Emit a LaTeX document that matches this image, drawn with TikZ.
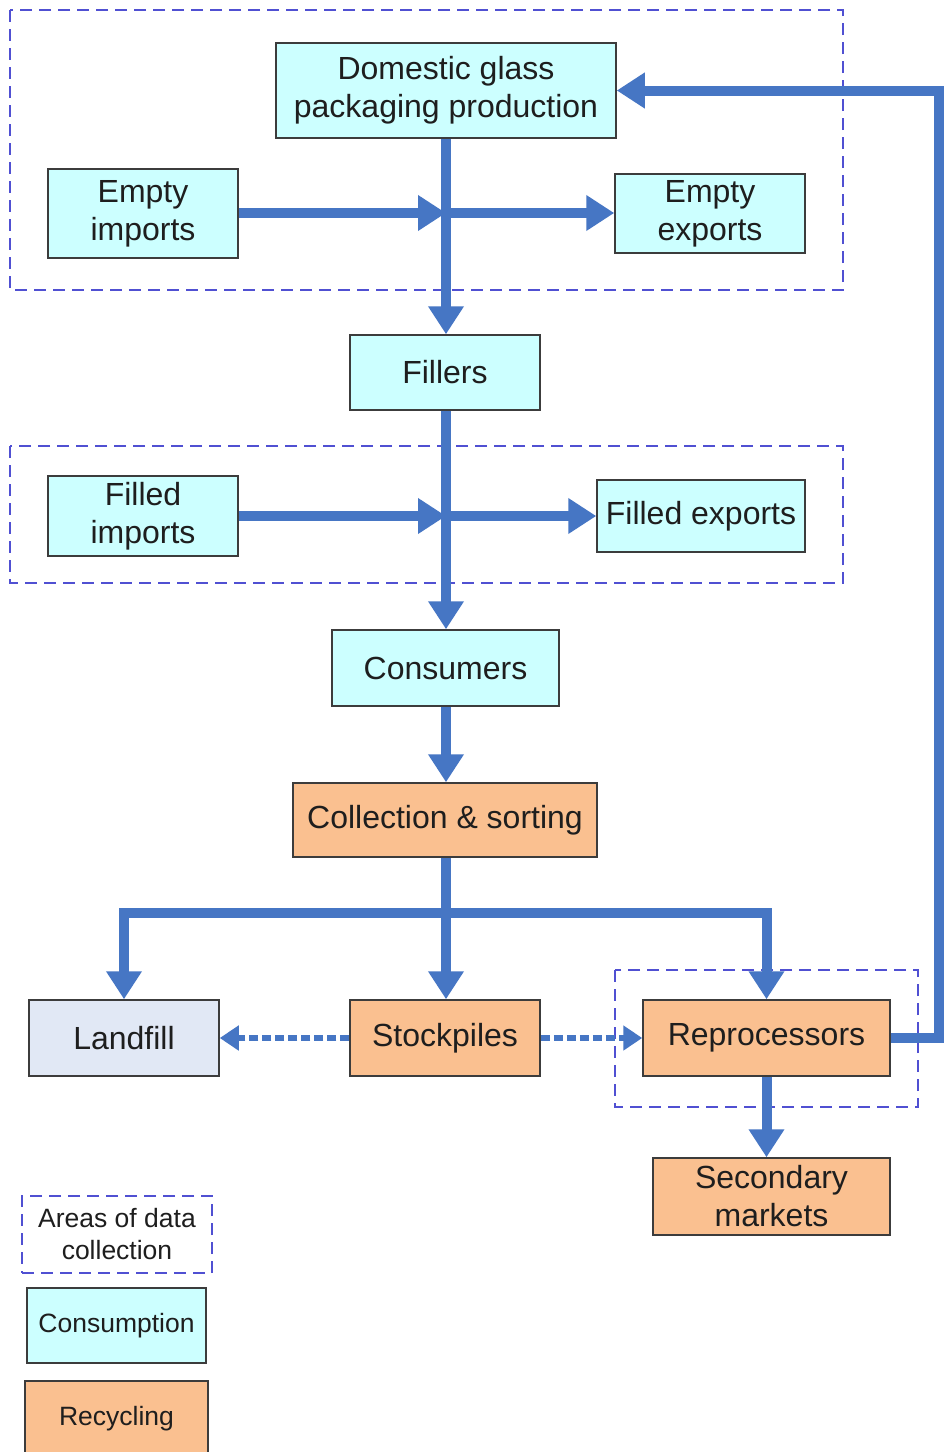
\documentclass[tikz,border=0pt]{standalone}
\usepackage{fontspec}
\setmainfont{Liberation Sans}
\usetikzlibrary{arrows.meta}
\definecolor{flow}{RGB}{70,118,196}
\definecolor{cyanfill}{RGB}{204,255,255}
\definecolor{orangefill}{RGB}{250,192,144}
\definecolor{landfill}{RGB}{225,232,245}
\definecolor{areadash}{RGB}{80,80,210}
\definecolor{edge}{RGB}{60,60,60}
\definecolor{txt}{RGB}{30,30,30}
\tikzset{
  box/.style={draw=edge, line width=1.5pt, rectangle, inner sep=0pt, align=center, text=txt, font=\fontsize{32}{38}\selectfont},
  cons/.style={box, fill=cyanfill},
  recy/.style={box, fill=orangefill},
  legendfont/.style={font=\fontsize{26.5}{32}\selectfont},
  area/.style={draw=areadash, line width=1.5pt, dash pattern=on 12pt off 7pt},
  flowarrow/.style={draw=flow, line width=10pt, -{Triangle[width=34pt,length=28pt]}},
  flowline/.style={draw=flow, line width=10pt},
  dasharrow/.style={draw=flow, line width=6pt, dash pattern=on 9pt off 4pt, -{Triangle[width=24pt,length=19pt]}},
}
\begin{document}
\begin{tikzpicture}[x=1pt,y=-1pt]
\useasboundingbox (0,0) rectangle (944,1452);
\fill[white] (0,0) rectangle (944,1452);
% areas
\draw[area] (10,10) rectangle (843,290);
\draw[area] (10,446) rectangle (843,583);
\draw[area] (615,970) rectangle (918,1107);
% nodes
\node[cons, minimum width=340pt, minimum height=95pt] (dom) at (446,90.5) {Domestic glass\\packaging production};
\node[cons, minimum width=190pt, minimum height=89pt] (ei) at (143,213.5) {Empty\\imports};
\node[cons, minimum width=190pt, minimum height=79pt] (ee) at (710,213.5) {Empty\\exports};
\node[cons, minimum width=190pt, minimum height=75pt] (fil) at (445,372.5) {Fillers};
\node[cons, minimum width=190pt, minimum height=80pt] (fi) at (143,516) {Filled\\imports};
\node[cons, minimum width=208pt, minimum height=72pt] (fe) at (701,516) {Filled exports};
\node[cons, minimum width=227pt, minimum height=76pt] (con) at (445.5,668) {Consumers};
\node[recy, minimum width=304pt, minimum height=74pt] (col) at (445,820) {Collection \& sorting};
\node[box, fill=landfill, minimum width=190pt, minimum height=76pt] (lf) at (124,1038) {Landfill};
\node[recy, minimum width=190pt, minimum height=76pt] (sp) at (445,1038) {Stockpiles};
\node[recy, minimum width=247pt, minimum height=76pt] (rep) at (766.5,1038) {Reprocessors};
\node[recy, minimum width=237pt, minimum height=77pt] (sec) at (771.5,1196.5) {Secondary\\markets};
% legend
\node[area, rectangle, inner sep=0pt, align=center, text=txt, minimum width=190pt, minimum height=77pt, legendfont] (lg1) at (117,1234.5) {Areas of data\\collection};
\node[cons, minimum width=179pt, minimum height=75pt, legendfont] (lg2) at (116.5,1325.5) {Consumption};
\node[recy, minimum width=183pt, minimum height=80pt, anchor=north, legendfont, text depth=0pt] (lg3) at (116.5,1380) {\raisebox{10pt}{Recycling}};
% junctions
\coordinate (j1) at (446,213);
\coordinate (j2) at (446,516);
\coordinate (j3) at (446,913);
% top flows
\draw[flowarrow] (dom.south -| j1) -- (fil.north -| j1);
\draw[flowarrow] (ei.east |- j1) -- (j1);
\draw[flowarrow] (j1) -- (ee.west |- j1);
% middle flows
\draw[flowarrow] (fil.south -| j2) -- (con.north -| j2);
\draw[flowarrow] (fi.east |- j2) -- (j2);
\draw[flowarrow] (j2) -- (fe.west |- j2);
\draw[flowarrow] (con.south -| j3) -- (col.north -| j3);
% branch
\draw[flowline] (col.south -| j3) -- (j3);
\draw[flowarrow] (j3) -| (lf.north);
\draw[flowarrow] (j3) -- (sp.north -| j3);
\draw[flowarrow] (j3) -| (rep.north);
% dashed
\draw[dasharrow] (sp.west) -- (lf.east);
\draw[dasharrow] (sp.east) -- (rep.west);
% reprocessors
\draw[flowarrow] (rep.south) -- (rep.south |- sec.north);
\coordinate (fb) at (939,1038);
\draw[flowarrow] (rep.east) -- (fb) -- (fb |- dom.east) -- (dom.east);
\end{tikzpicture}
\end{document}
